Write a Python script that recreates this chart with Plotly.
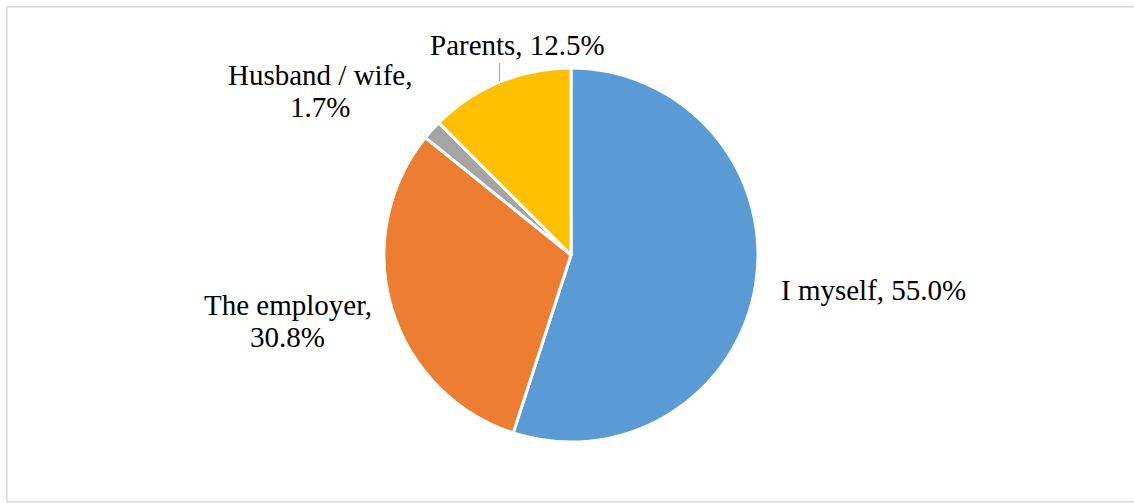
import math
import plotly.graph_objects as go

# ---- data ----
labels = ["I myself", "The employer", "Husband / wife", "Parents"]
values = [55.0, 30.8, 1.7, 12.5]
colors = ["#5B9BD5", "#ED7D31", "#A5A5A5", "#FFC000"]

W, H = 1134, 503
CX, CY, R = 571, 255, 187
FONT = "Liberation Serif"
FS = 29


def px(x):
    return x / W


def py(y):
    return 1 - y / H


fig = go.Figure(go.Pie(
    labels=labels,
    values=values,
    marker=dict(colors=colors, line=dict(color="white", width=3)),
    sort=False,
    direction="clockwise",
    rotation=0,
    textinfo="none",
    hoverinfo="skip",
    showlegend=False,
    domain=dict(x=[px(CX - R), px(CX + R)], y=[py(CY + R), py(CY - R)]),
))

total = sum(values)
pct = [v / total * 100 for v in values]

# label layout: (anchor x, baseline y of first line, xanchor, single line)
label_pos = {
    "I myself": (779, 300, "left", True),
    "The employer": (287.5, 315, "center", False),
    "Husband / wife": (320, 85, "center", False),
    "Parents": (517.5, 55, "center", True),
}
LINE_GAP = 32
annotations = []
for lab, p in zip(labels, pct):
    x, base, xa, single = label_pos[lab]
    if single:
        lines = [f"{lab}, {p:.1f}%"]
    else:
        lines = [f"{lab},", f"{p:.1f}%"]
    for i, t in enumerate(lines):
        b = base + i * LINE_GAP
        annotations.append(dict(
            x=px(x), y=py(b - FS * 0.33), xref="paper", yref="paper",
            text=t, showarrow=False, xanchor=xa, yanchor="middle",
            font=dict(family=FONT, size=FS, color="black"),
        ))

# leader line for Parents from slice mid-angle on the rim
cum = 0
shapes = []
for lab, v in zip(labels, values):
    mid = (cum + v / 2) / total
    cum += v
    if lab == "Parents":
        ang = 2 * math.pi * mid
        x0 = CX + R * math.sin(ang)
        y0 = CY - R * math.cos(ang)
        shapes.append(dict(type="line", xref="paper", yref="paper",
                           x0=px(x0), y0=py(y0 - 1), x1=px(x0), y1=py(63),
                           line=dict(color="#A6A6A6", width=1.2)))

# chart border (top, left, bottom; right edge is off-image)
border = dict(color="#D9D9D9", width=1.6)
for x0, y0, x1, y1 in [(6.8, 6.8, 1134, 6.8), (6.8, 6.8, 6.8, 502), (6.8, 502, 1134, 502)]:
    shapes.append(dict(type="line", xref="paper", yref="paper",
                       x0=px(x0), y0=py(y0), x1=px(x1), y1=py(y1),
                       line=border, layer="below"))

fig.update_layout(
    width=W, height=H, autosize=False,
    margin=dict(l=0, r=0, t=0, b=0),
    paper_bgcolor="white", plot_bgcolor="white",
    annotations=annotations, shapes=shapes,
)

fig.write_html("out.html", config={"displayModeBar": False},
               post_script="document.body.style.margin='0';document.body.style.overflow='hidden';")
